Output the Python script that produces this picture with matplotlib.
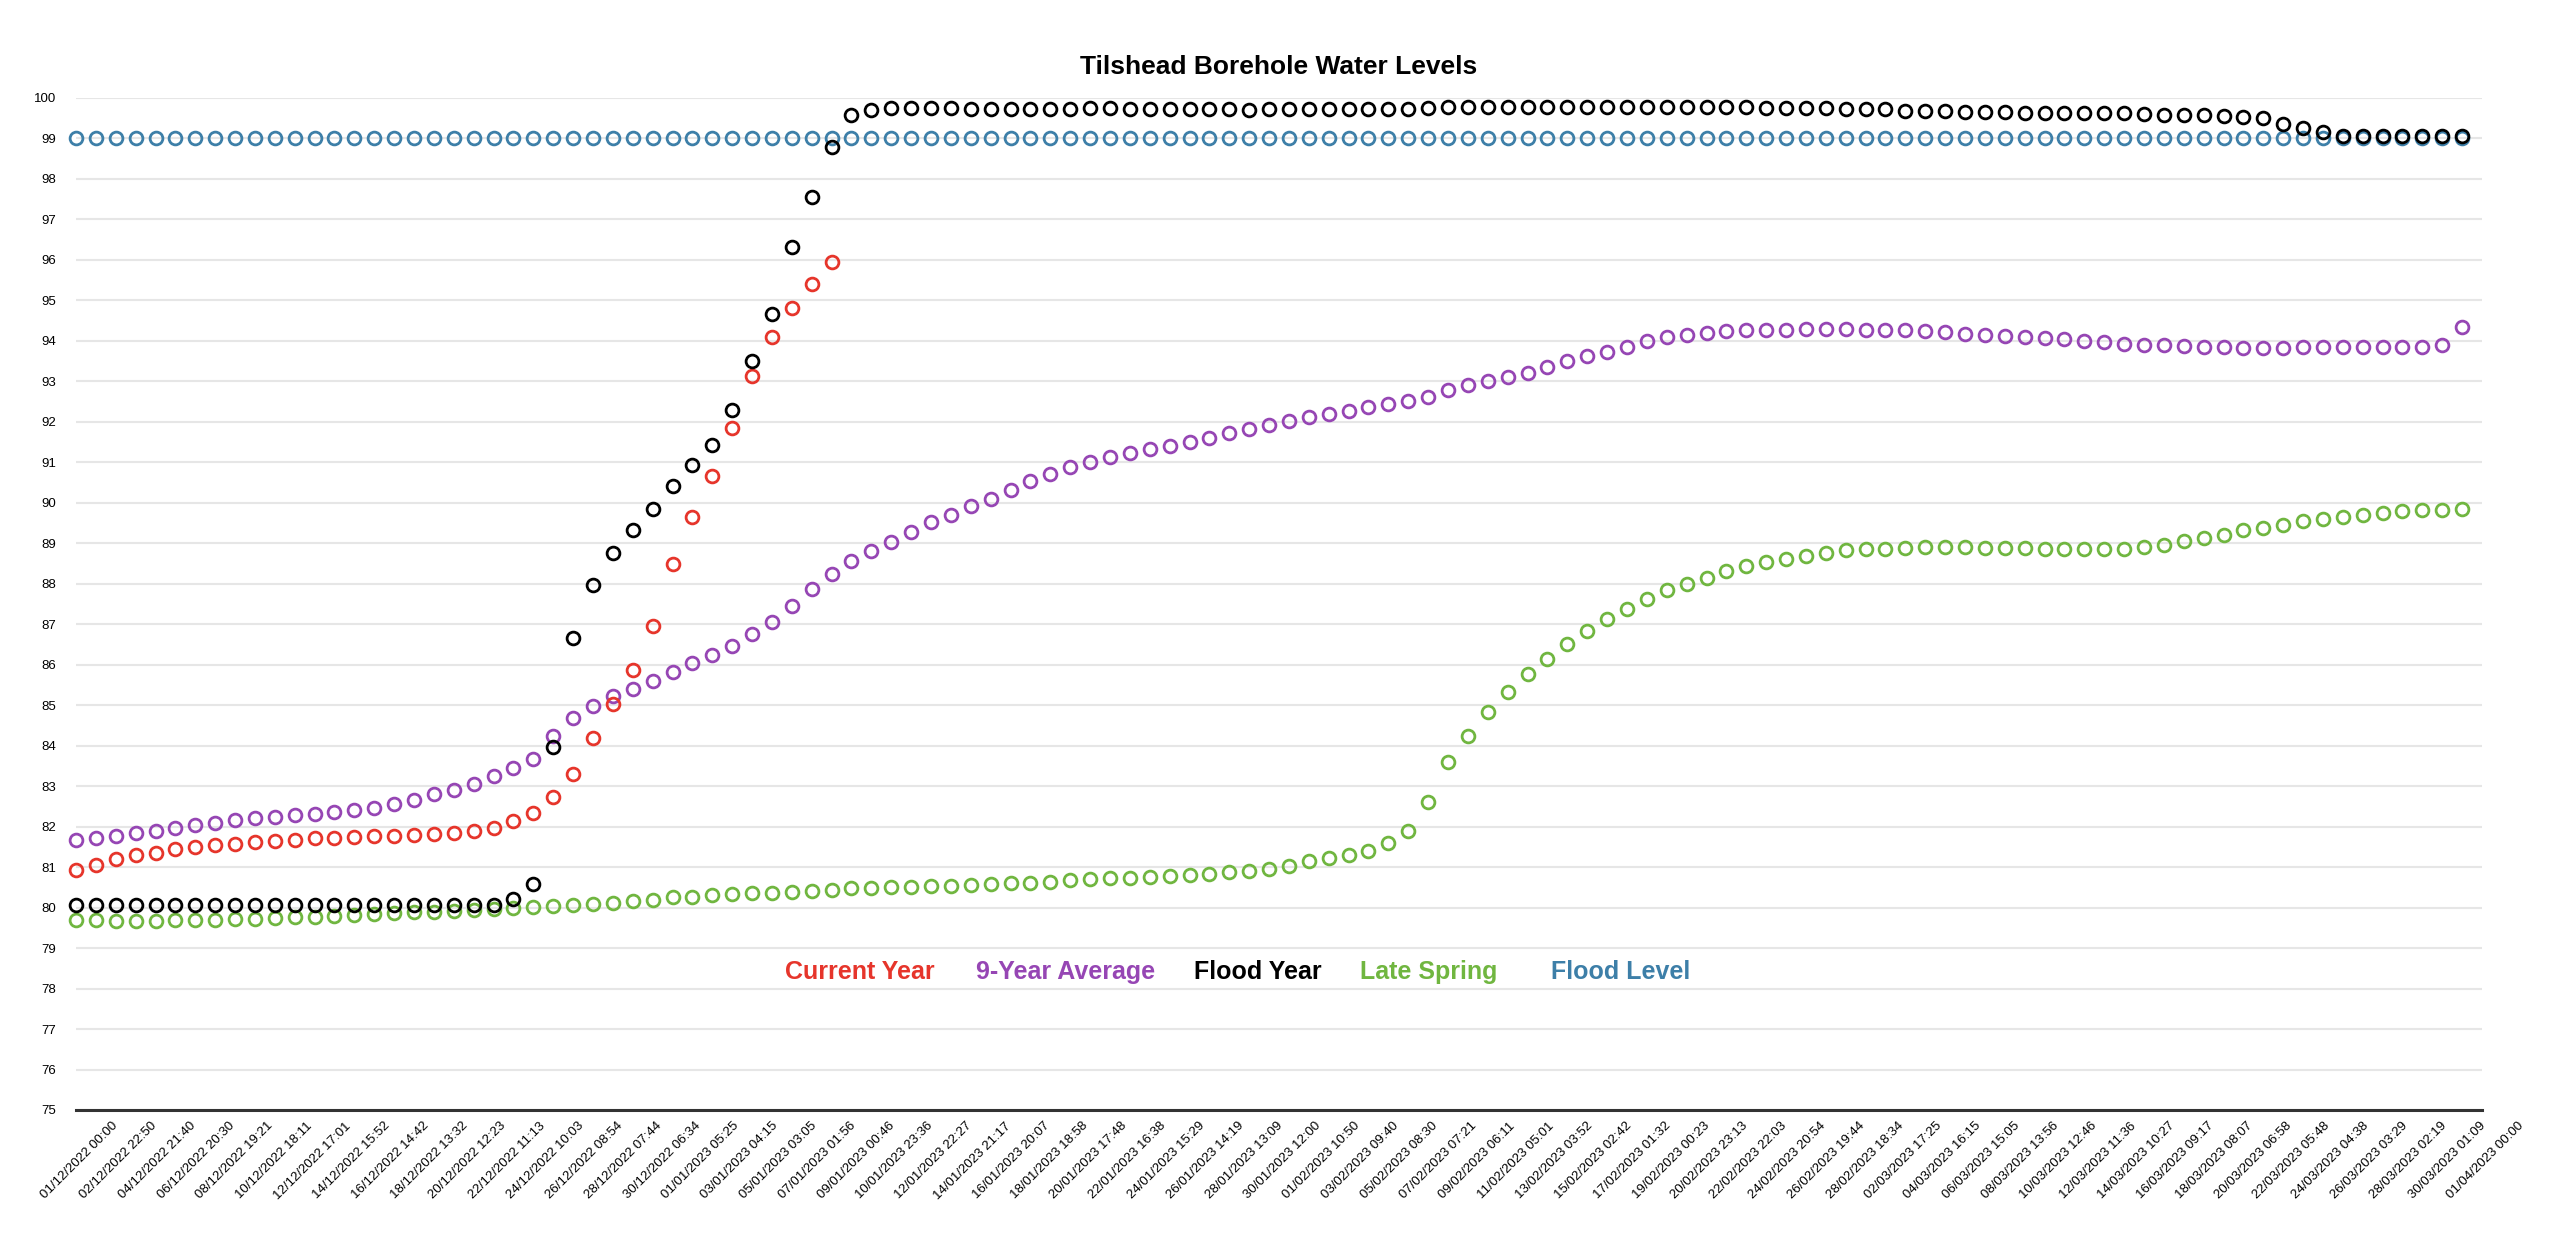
import matplotlib
matplotlib.use("Agg")
import matplotlib.pyplot as plt
import matplotlib.transforms as mtransforms
import numpy as np
import pandas as pd

plt.rcParams['font.family'] = ['Liberation Sans', 'DejaVu Sans']

# daily readings, 01/12/2022 .. 31/03/2023
dates = pd.date_range('2022-12-01', periods=121, freq='D')

current_year = [80.92, 81.05, 81.20, 81.29, 81.34, 81.44, 81.49, 81.54, 81.58, 81.61,
                81.64, 81.68, 81.71, 81.72, 81.75, 81.76, 81.78, 81.79, 81.81, 81.84,
                81.90, 81.97, 82.13, 82.34, 82.72, 83.29, 84.20, 85.03, 85.86, 86.95,
                88.50, 89.66, 90.67, 91.86, 93.13, 94.09, 94.80, 95.41, 95.96]

nine_year_avg = [81.68, 81.72, 81.78, 81.85, 81.90, 81.96, 82.05, 82.10, 82.16, 82.22,
                 82.25, 82.29, 82.31, 82.35, 82.40, 82.46, 82.55, 82.65, 82.80, 82.90,
                 83.06, 83.25, 83.44, 83.68, 84.24, 84.68, 84.97, 85.23, 85.41, 85.60,
                 85.82, 86.04, 86.23, 86.47, 86.76, 87.05, 87.45, 87.86, 88.23, 88.55,
                 88.81, 89.03, 89.28, 89.53, 89.71, 89.92, 90.10, 90.31, 90.53, 90.70,
                 90.88, 91.02, 91.13, 91.24, 91.33, 91.41, 91.51, 91.61, 91.73, 91.83,
                 91.92, 92.03, 92.12, 92.20, 92.28, 92.37, 92.43, 92.51, 92.62, 92.78,
                 92.90, 93.00, 93.11, 93.21, 93.36, 93.50, 93.62, 93.72, 93.84, 93.99,
                 94.09, 94.15, 94.20, 94.24, 94.26, 94.28, 94.28, 94.29, 94.29, 94.29,
                 94.28, 94.28, 94.26, 94.24, 94.22, 94.18, 94.15, 94.13, 94.09, 94.07,
                 94.04, 94.00, 93.97, 93.93, 93.90, 93.89, 93.87, 93.86, 93.85, 93.83,
                 93.82, 93.82, 93.84, 93.84, 93.85, 93.85, 93.85, 93.85, 93.86, 93.89,
                 94.34]

flood_year = [80.06] * 22 + [
    80.22, 80.58, 83.96, 86.65, 87.96, 88.77, 89.34, 89.84, 90.41, 90.93,
    91.44, 92.30, 93.51, 94.66, 96.31, 97.55, 98.80, 99.58, 99.71,
    99.76, 99.76, 99.76, 99.76, 99.74, 99.74, 99.74, 99.74, 99.74, 99.73,
    99.75, 99.76, 99.74, 99.74, 99.74, 99.74, 99.74, 99.72, 99.71, 99.72,
    99.74, 99.74, 99.72, 99.72, 99.72, 99.74, 99.74, 99.76, 99.79, 99.79,
    99.79, 99.79, 99.79, 99.79, 99.79, 99.79, 99.79, 99.77, 99.77,
    99.77, 99.77, 99.77, 99.77, 99.77, 99.76, 99.75, 99.76, 99.75, 99.73,
    99.72, 99.72, 99.69, 99.67, 99.67, 99.65, 99.65, 99.65, 99.64, 99.63,
    99.64, 99.63, 99.63, 99.63, 99.61, 99.59, 99.58, 99.57, 99.55, 99.53,
    99.51, 99.36, 99.26, 99.16, 99.06, 99.06, 99.06, 99.06, 99.06, 99.06,
    99.06]

late_spring = [79.69, 79.69, 79.68, 79.68, 79.68, 79.69, 79.69, 79.70, 79.71, 79.72,
               79.74, 79.76, 79.77, 79.80, 79.81, 79.83, 79.86, 79.88, 79.90, 79.91,
               79.94, 79.96, 79.99, 80.02, 80.03, 80.06, 80.09, 80.12, 80.16, 80.20,
               80.25, 80.27, 80.30, 80.34, 80.36, 80.37, 80.39, 80.41, 80.44, 80.48,
               80.49, 80.50, 80.52, 80.54, 80.54, 80.56, 80.58, 80.61, 80.62, 80.64,
               80.67, 80.70, 80.72, 80.74, 80.76, 80.79, 80.81, 80.84, 80.87, 80.91,
               80.96, 81.03, 81.14, 81.22, 81.30, 81.41, 81.60, 81.90, 82.62, 83.59,
               84.25, 84.84, 85.33, 85.76, 86.15, 86.52, 86.83, 87.14, 87.38, 87.63,
               87.84, 88.00, 88.15, 88.31, 88.45, 88.53, 88.61, 88.68, 88.76, 88.84,
               88.85, 88.87, 88.88, 88.92, 88.92, 88.90, 88.89, 88.88, 88.88, 88.87,
               88.85, 88.85, 88.85, 88.87, 88.91, 88.96, 89.05, 89.13, 89.21, 89.32,
               89.38, 89.46, 89.55, 89.59, 89.65, 89.70, 89.75, 89.79, 89.81, 89.83,
               89.85]

flood_level = [99.0] * 121

tick_labels = [
    '01/12/2022 00:00', '02/12/2022 22:50', '04/12/2022 21:40', '06/12/2022 20:30',
    '08/12/2022 19:21', '10/12/2022 18:11', '12/12/2022 17:01', '14/12/2022 15:52',
    '16/12/2022 14:42', '18/12/2022 13:32', '20/12/2022 12:23', '22/12/2022 11:13',
    '24/12/2022 10:03', '26/12/2022 08:54', '28/12/2022 07:44', '30/12/2022 06:34',
    '01/01/2023 05:25', '03/01/2023 04:15', '05/01/2023 03:05', '07/01/2023 01:56',
    '09/01/2023 00:46', '10/01/2023 23:36', '12/01/2023 22:27', '14/01/2023 21:17',
    '16/01/2023 20:07', '18/01/2023 18:58', '20/01/2023 17:48', '22/01/2023 16:38',
    '24/01/2023 15:29', '26/01/2023 14:19', '28/01/2023 13:09', '30/01/2023 12:00',
    '01/02/2023 10:50', '03/02/2023 09:40', '05/02/2023 08:30', '07/02/2023 07:21',
    '09/02/2023 06:11', '11/02/2023 05:01', '13/02/2023 03:52', '15/02/2023 02:42',
    '17/02/2023 01:32', '19/02/2023 00:23', '20/02/2023 23:13', '22/02/2023 22:03',
    '24/02/2023 20:54', '26/02/2023 19:44', '28/02/2023 18:34', '02/03/2023 17:25',
    '04/03/2023 16:15', '06/03/2023 15:05', '08/03/2023 13:56', '10/03/2023 12:46',
    '12/03/2023 11:36', '14/03/2023 10:27', '16/03/2023 09:17', '18/03/2023 08:07',
    '20/03/2023 06:58', '22/03/2023 05:48', '24/03/2023 04:38', '26/03/2023 03:29',
    '28/03/2023 02:19', '30/03/2023 01:09', '01/04/2023 00:00']

series_names = ['Current Year', '9-Year Average', 'Flood Year', 'Late Spring', 'Flood Level']
colors = ['#e6352b', '#9646b4', '#000000', '#70b640', '#3d7fa8']

fig = plt.figure(figsize=(25.6, 12.45), dpi=100)
ax = fig.add_axes([76 / 2560, 1 - 1110 / 1245, (2482 - 76) / 2560, (1110 - 98) / 1245])

mk = dict(linestyle='none', marker='o', markersize=9.2, markerfacecolor='none',
          markeredgewidth=2.0, clip_on=False)
ax.plot(dates, flood_level, color=colors[4], zorder=2, **mk)
ax.plot(dates[:len(late_spring)], late_spring, color=colors[3], zorder=3, **mk)
ax.plot(dates[:len(nine_year_avg)], nine_year_avg, color=colors[1], zorder=3, **mk)
ax.plot(dates[:len(current_year)], current_year, color=colors[0], zorder=4, **mk)
ax.plot(dates[:len(flood_year)], flood_year, color=colors[2], zorder=5, **mk)

start = pd.Timestamp('2022-12-01')
end = pd.Timestamp('2023-04-01')
ax.set_xlim(start, end)
ax.set_ylim(75, 100)
ax.set_yticks(range(75, 101))
ax.tick_params(axis='y', length=0, labelsize=9.5, pad=14)

ticks = pd.date_range(start, end, periods=len(tick_labels))
ax.set_xticks(ticks)
ax.set_xticklabels(tick_labels, rotation=45, ha='right', va='top',
                   rotation_mode='anchor', fontsize=9.5)
ax.tick_params(axis='x', length=0, pad=0)
offset = mtransforms.ScaledTranslation(0.36, -0.10, fig.dpi_scale_trans)
for lbl in ax.get_xticklabels():
    lbl.set_transform(lbl.get_transform() + offset)

ax.grid(axis='y', color='#e6e6e6', linewidth=1.5, zorder=0)
ax.grid(axis='x', visible=False)
ax.set_axisbelow(True)
for side in ['left', 'right', 'top']:
    ax.spines[side].set_visible(False)
ax.spines['bottom'].set_color('#333333')
ax.spines['bottom'].set_linewidth(2.2)
ax.spines['bottom'].set_zorder(6)

fig.text(0.5 * (76 + 2482) / 2560, 1 - 67 / 1245, 'Tilshead Borehole Water Levels',
         ha='center', va='center', fontsize=19, fontweight='bold')

legend_x = [785, 976, 1194, 1360, 1551]
for name, col, lx in zip(series_names, colors, legend_x):
    fig.text(lx / 2560, 1 - 972 / 1245, name, ha='left', va='center',
             fontsize=18, fontweight='bold', color=col)

fig.savefig('out.png', dpi=100, facecolor='white')
